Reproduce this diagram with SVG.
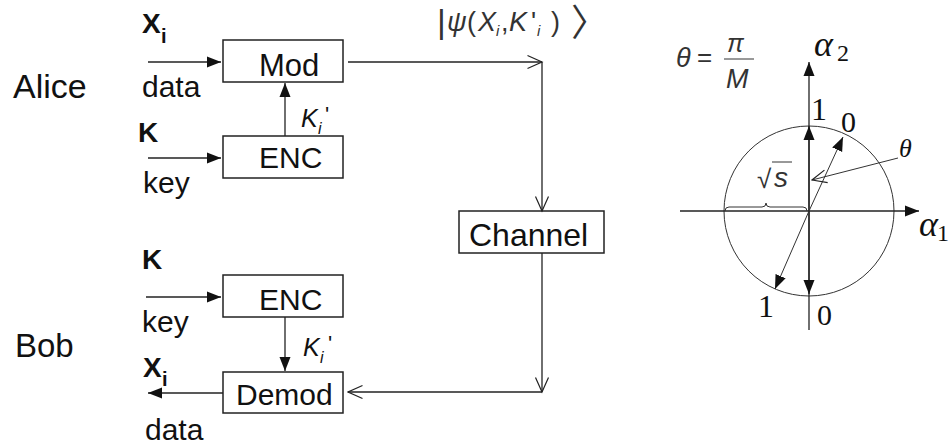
<svg xmlns="http://www.w3.org/2000/svg" width="951" height="447" viewBox="0 0 951 447">
<style>
text{font-family:"Liberation Sans",Arial,sans-serif;fill:#111}
.lbl{font-size:30px}
.who{font-size:34px}
.b{font-weight:bold}
.it{font-style:italic}
.serif{font-family:"Liberation Serif","Times New Roman",serif}
.box{fill:#fff;stroke:#222;stroke-width:1.5}
.ln{fill:none;stroke:#222;stroke-width:1.3}
.thin{fill:none;stroke:#333;stroke-width:1}
.math{fill:#333}
</style>
<defs>
<marker id="fa" markerUnits="userSpaceOnUse" markerWidth="14" markerHeight="12" refX="14" refY="6" orient="auto">
<path d="M0,0.5 L14,6 L0,11.5 z" fill="#111"/>
</marker>
<marker id="oa" markerUnits="userSpaceOnUse" markerWidth="17" markerHeight="16" refX="15.5" refY="8" orient="auto">
<path d="M1,1.5 L15.5,8 L1,14.5" fill="none" stroke="#222" stroke-width="1.2"/>
</marker>
</defs>
<rect width="951" height="447" fill="#fff"/>

<text class="who" x="13" y="98">Alice</text>
<text class="who" x="15" y="357" style="font-size:33px">Bob</text>

<g id="mod"><rect class="box" x="223" y="40" width="120" height="42"/><text class="lbl" x="259" y="76" style="font-size:31px">Mod</text></g>
<g id="enc-alice"><rect class="box" x="223" y="136" width="120" height="42"/><text class="lbl" x="259" y="168">ENC</text></g>
<g id="channel"><rect class="box" x="459" y="211" width="145" height="42"/><text class="lbl" x="469" y="246" style="font-size:32px">Channel</text></g>
<g id="enc-bob"><rect class="box" x="223" y="275" width="120" height="42"/><text class="lbl" x="259" y="310">ENC</text></g>
<g id="demod"><rect class="box" x="223" y="372" width="120" height="41"/><text class="lbl" x="236" y="405">Demod</text></g>

<g id="connectors">
<path class="ln" d="M148,62 H221" marker-end="url(#fa)"/>
<path class="ln" d="M148,158 H221" marker-end="url(#fa)"/>
<path class="ln" d="M285,136 V83" marker-end="url(#fa)"/>
<path class="ln" d="M146,297 H221" marker-end="url(#fa)"/>
<path class="ln" d="M285,317 V371" marker-end="url(#fa)"/>
<path class="ln" d="M223,393 H148" marker-end="url(#fa)"/>
<path class="ln" d="M348,62 H542" marker-end="url(#oa)"/>
<path class="ln" d="M542,62 V211" marker-end="url(#oa)"/>
<path class="ln" d="M542,253 V392" marker-end="url(#oa)"/>
<path class="ln" d="M542,392 H348" marker-end="url(#oa)"/>
</g>

<g id="labels-left">
<text class="b" x="142" y="33" style="font-size:28px">X</text><text class="b" x="161" y="43" style="font-size:20px">i</text>
<text class="lbl" x="142" y="97">data</text>
<text class="b" x="138" y="142" style="font-size:28px">K</text>
<text class="lbl" x="143" y="193">key</text>
<text class="it" x="301" y="127" style="font-size:25px">K</text><text class="it" x="318" y="134" style="font-size:16px">i</text><text x="325" y="122" style="font-size:22px">'</text>
<text class="b" x="142" y="269" style="font-size:28px">K</text>
<text class="lbl" x="142" y="332">key</text>
<text class="it" x="303" y="356" style="font-size:25px">K</text><text class="it" x="320" y="363" style="font-size:16px">i</text><text x="328" y="351" style="font-size:22px">'</text>
<text class="b" x="143" y="377" style="font-size:28px">X</text><text class="b" x="162" y="386" style="font-size:20px">i</text>
<text class="lbl" x="145" y="440">data</text>
</g>

<g id="psi-label" class="math">
<text class="math" x="437" y="33" style="font-size:34px">|</text>
<text class="math it" x="447" y="31" style="font-size:27px">ψ</text>
<text class="math" x="467" y="31" style="font-size:27px">(</text>
<text class="math it" x="478" y="31" style="font-size:27px">X</text>
<text class="math it" x="496" y="36" style="font-size:15px">i</text>
<text class="math" x="501" y="31" style="font-size:27px">,</text>
<text class="math it" x="509" y="31" style="font-size:27px">K</text>
<text class="math" x="531" y="31" style="font-size:27px">'</text>
<text class="math it" x="537" y="36" style="font-size:15px">i</text>
<text class="math" x="551" y="31" style="font-size:27px">)</text>
<text class="math" x="571" y="36" style="font-family:'Noto Sans CJK SC',sans-serif;font-size:37px">〉</text>
</g>

<g id="constellation">
<circle class="thin" cx="809" cy="211" r="85"/>
<path class="ln" d="M809,330 V62" marker-end="url(#fa)"/>
<path class="ln" d="M809,211 V126" marker-end="url(#fa)"/>
<path class="ln" d="M809,211 V294" marker-end="url(#fa)"/>
<path class="ln" d="M680,211 H919" marker-end="url(#fa)"/>
<path class="thin" d="M809,211 L843,137" marker-end="url(#fa)"/>
<path class="thin" d="M809,211 L775,289" marker-end="url(#fa)"/>
<path class="thin" d="M898,158 L812,180" marker-end="url(#oa)"/>
<path class="thin" d="M725,211 Q725,207 729,207 L762,207 Q766,207 766,203 Q766,207 770,207 L803,207 Q807,207 807,211"/>
<text class="math it" x="676" y="67" style="font-size:27px">θ</text>
<text class="math" x="697" y="66" style="font-size:26px">=</text>
<text class="math it" x="727" y="52" style="font-size:25px">π</text>
<line class="thin" x1="724" y1="59" x2="754" y2="59"/>
<text class="math it" x="726" y="88" style="font-size:27px">M</text>
<text class="serif it" x="814" y="56" style="font-size:36px">α</text><text class="serif" x="837" y="61" style="font-size:24px">2</text>
<text class="serif it" x="919" y="236" style="font-size:36px">α</text><text class="serif" x="937" y="241" style="font-size:24px">1</text>
<text class="serif" x="811" y="120" style="font-size:32px">1</text>
<text class="serif" x="841" y="132" style="font-size:30px">0</text>
<text class="serif" x="758" y="317" style="font-size:32px">1</text>
<text class="serif" x="817" y="325" style="font-size:30px">0</text>
<text class="serif it" x="899" y="157" style="font-size:26px">θ</text>
<text class="math" x="757" y="188" style="font-size:26px">√</text>
<line class="thin" x1="772" y1="162" x2="792" y2="162"/>
<text class="math it" x="774" y="187" style="font-size:28px">s</text>
</g>
</svg>
